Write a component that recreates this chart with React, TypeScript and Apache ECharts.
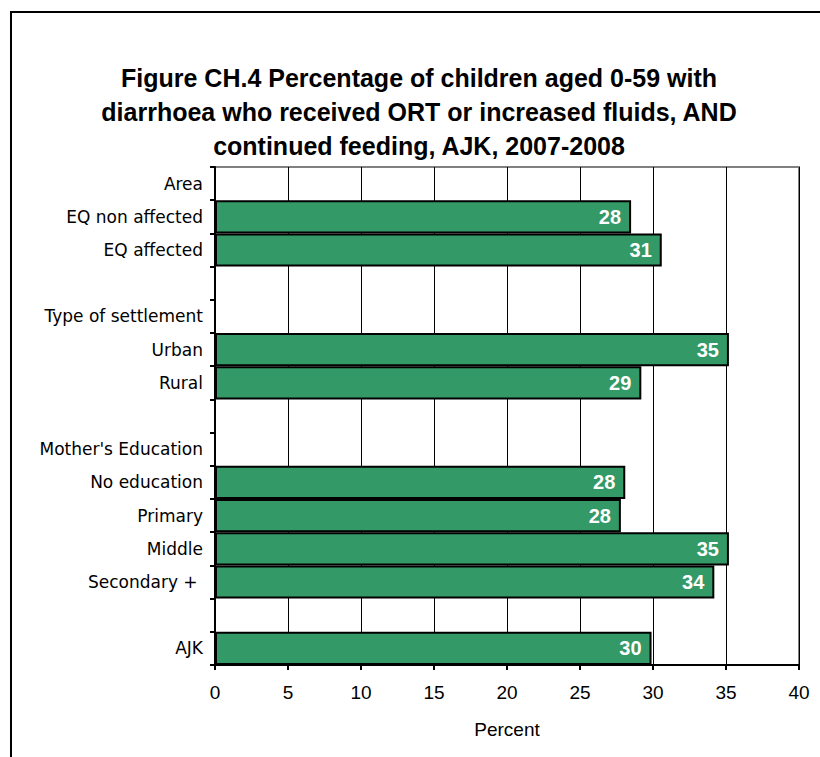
import React, { useEffect, useRef } from "react";
import * as echarts from "echarts";

const categories: string[] = [
  "Area",
  "EQ non affected",
  "EQ affected",
  " ",
  "Type of settlement",
  "Urban",
  "Rural",
  "  ",
  "Mother's Education",
  "No education",
  "Primary",
  "Middle",
  "Secondary + ",
  "   ",
  "AJK",
];

// bar lengths
const values: (number | null)[] = [
  null, 28.5, 30.6, null,
  null, 35.2, 29.2, null,
  null, 28.1, 27.8, 35.2, 34.2, null,
  29.9,
];

// printed value labels
const valueLabels: string[] = [
  "", "28", "31", "",
  "", "35", "29", "",
  "", "28", "28", "35", "34", "",
  "30",
];

const xTicks = { min: 0, max: 40, interval: 5 };

const titleLines = [
  "Figure CH.4 Percentage of children aged 0-59 with",
  "diarrhoea who received ORT or increased fluids, AND",
  "continued feeding, AJK, 2007-2008",
];

const FONT = "'Liberation Sans', Arial, Helvetica, sans-serif";
const WIDE = "'DejaVu Sans', 'Liberation Sans', sans-serif";

export default function App() {
  const ref = useRef<HTMLDivElement>(null);
  useEffect(() => {
    if (!ref.current) return;
    const chart = echarts.init(ref.current, undefined, { renderer: "svg" });
    chart.setOption({
      animation: false,
      backgroundColor: "#ffffff",
      graphic: [
        {
          type: "rect",
          shape: { x: 11, y: 12, width: 840, height: 800 },
          style: { fill: "none", stroke: "#000", lineWidth: 2 },
          z: 0,
        },
        {
          type: "text",
          x: 419,
          y: 61,
          style: {
            text: titleLines.join("\n"),
            font: `bold 25px ${FONT}`,
            fill: "#000",
            align: "center",
            verticalAlign: "top",
            lineHeight: 34,
          },
        },
      ],
      grid: {
        left: 215,
        top: 167,
        width: 584,
        height: 498,
        show: true,
        borderColor: "#808080",
        borderWidth: 2,
        backgroundColor: "#fff",
      },
      xAxis: {
        type: "value",
        min: xTicks.min,
        max: xTicks.max,
        interval: xTicks.interval,
        name: "Percent",
        nameLocation: "middle",
        nameGap: 55,
        nameTextStyle: { fontFamily: FONT, fontSize: 19, color: "#000" },
        axisLine: { show: true, lineStyle: { color: "#000", width: 2 } },
        axisTick: { show: true, length: 5, lineStyle: { color: "#000", width: 2 } },
        axisLabel: { fontFamily: FONT, fontSize: 19, color: "#000", margin: 18 },
        splitLine: { show: true, lineStyle: { color: "#000", width: 1 } },
      },
      yAxis: {
        type: "category",
        data: categories,
        inverse: true,
        axisLine: { show: true, lineStyle: { color: "#000", width: 2 } },
        axisTick: { show: true, length: 5, lineStyle: { color: "#000", width: 2 } },
        axisLabel: { fontFamily: WIDE, fontSize: 17, color: "#000", margin: 12 },
        splitLine: { show: false },
      },
      series: [
        {
          type: "bar",
          data: values,
          barCategoryGap: "0%",
          itemStyle: { color: "#339966", borderColor: "#000", borderWidth: 2 },
          label: {
            show: true,
            position: "insideRight",
            distance: 10,
            color: "#fff",
            fontFamily: FONT,
            fontWeight: "bold",
            fontSize: 20,
            formatter: (p: any) => valueLabels[p.dataIndex] || "",
          },
        },
      ],
    });
    return () => chart.dispose();
  }, []);
  return (
    <div
      ref={ref}
      style={{ position: "fixed", left: 0, top: 0, width: 820, height: 757 }}
    />
  );
}
